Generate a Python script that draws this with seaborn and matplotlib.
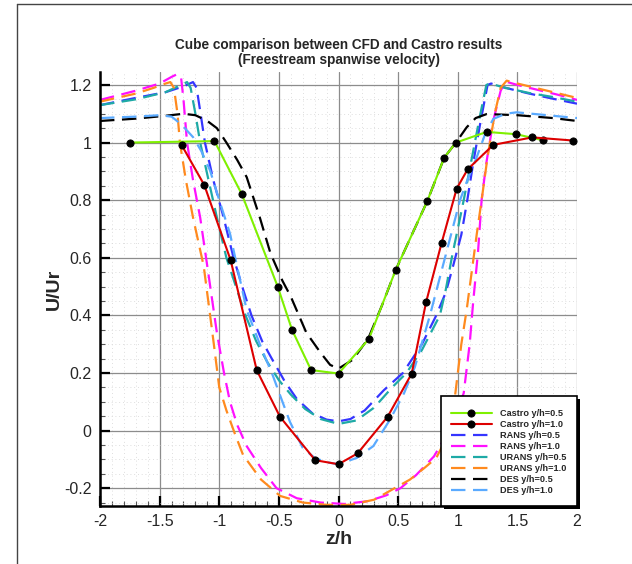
import numpy as np
import pandas as pd
import matplotlib
matplotlib.use("Agg")
import matplotlib.pyplot as plt
from matplotlib.lines import Line2D
from matplotlib.patches import Rectangle
from matplotlib.ticker import MultipleLocator, FuncFormatter
import seaborn as sns

# ---- Castro experimental data ----
castro_z_05 = [-1.75, -1.04, -0.81, -0.51, -0.39, -0.23, 0.0, 0.255, 0.48, 0.745, 0.887, 0.985, 1.243, 1.49, 1.715]
castro_u_05 = [1.0, 1.005, 0.82, 0.50, 0.35, 0.21, 0.198, 0.318, 0.558, 0.797, 0.948, 1.0, 1.037, 1.029, 1.008]

castro_z_10 = [-1.315, -1.125, -0.904, -0.686, -0.491, -0.195, 0.0, 0.161, 0.412, 0.614, 0.734, 0.865, 0.991, 1.083, 1.298, 1.625, 1.969]
castro_u_10 = [0.991, 0.852, 0.591, 0.21, 0.048, -0.103, -0.117, -0.079, 0.048, 0.198, 0.445, 0.652, 0.84, 0.907, 0.992, 1.018, 1.007]

# ---- RANS ----
rans_z_05 = [-2.0, -1.7, -1.45, -1.3, -1.22, -1.19, -1.16, -1.12, -1.05, -0.97, -0.88, -0.8, -0.73, -0.64, -0.56,
             -0.45, -0.35, -0.22, -0.1, 0.0, 0.1, 0.22, 0.38, 0.54, 0.7, 0.82, 0.9, 0.96, 1.03, 1.08, 1.13, 1.19,
             1.25, 1.28, 1.4, 1.6, 1.8, 2.0]
rans_u_05 = [1.13, 1.155, 1.175, 1.195, 1.21, 1.19, 1.11, 1.0, 0.87, 0.75, 0.6, 0.49, 0.4, 0.31, 0.25,
             0.17, 0.11, 0.06, 0.038, 0.032, 0.04, 0.07, 0.14, 0.2, 0.3, 0.4, 0.48, 0.57, 0.68, 0.8, 0.93, 1.07,
             1.2, 1.205, 1.19, 1.17, 1.152, 1.135]

rans_z_10 = [-2.0, -1.7, -1.5, -1.4, -1.35, -1.32, -1.3, -1.27, -1.22, -1.16, -1.1, -1.02, -0.96, -0.91, -0.85,
             -0.77, -0.65, -0.52, -0.35, -0.15, 0.05, 0.25, 0.4, 0.52, 0.65, 0.8, 0.9, 0.98, 1.05, 1.1, 1.13,
             1.17, 1.2, 1.24, 1.3, 1.36, 1.4, 1.5, 1.7, 1.85, 2.0]
rans_u_10 = [1.148, 1.18, 1.205, 1.228, 1.238, 1.225, 1.15, 1.0, 0.87, 0.74, 0.57, 0.34, 0.2, 0.1, 0.02,
             -0.054, -0.13, -0.2, -0.235, -0.25, -0.255, -0.245, -0.225, -0.2, -0.155, -0.09, -0.02, 0.05, 0.13, 0.3, 0.45,
             0.62, 0.8, 0.93, 1.08, 1.18, 1.212, 1.2, 1.18, 1.165, 1.148]

# ---- URANS ----
urans_z_05 = [-2.0, -1.7, -1.45, -1.32, -1.27, -1.24, -1.2, -1.16, -1.09, -1.02, -0.94, -0.86, -0.78, -0.69, -0.6,
              -0.5, -0.4, -0.28, -0.15, 0.0, 0.15, 0.3, 0.45, 0.57, 0.7, 0.85, 0.9, 0.95, 1.0, 1.05, 1.12, 1.19,
              1.24, 1.27, 1.4, 1.6, 1.8, 2.0]
urans_u_05 = [1.13, 1.15, 1.175, 1.2, 1.21, 1.19, 1.1, 1.0, 0.87, 0.74, 0.6, 0.5, 0.4, 0.31, 0.24,
              0.175, 0.125, 0.075, 0.04, 0.023, 0.035, 0.08, 0.15, 0.2, 0.28, 0.4, 0.49, 0.6, 0.7, 0.8, 0.95, 1.1,
              1.2, 1.205, 1.19, 1.172, 1.158, 1.142]

urans_z_10 = [-2.0, -1.7, -1.55, -1.45, -1.41, -1.38, -1.35, -1.33, -1.28, -1.22, -1.13, -1.05, -1.0, -0.94, -0.87,
              -0.8, -0.65, -0.49, -0.3, -0.1, 0.1, 0.3, 0.45, 0.6, 0.72, 0.82, 0.9, 0.95, 0.98, 1.03, 1.075,
              1.12, 1.16, 1.2, 1.25, 1.31, 1.36, 1.41, 1.5, 1.7, 1.85, 2.0]
urans_u_10 = [1.142, 1.17, 1.19, 1.205, 1.21, 1.19, 1.1, 1.0, 0.87, 0.74, 0.57, 0.315, 0.15, 0.07, -0.01,
              -0.085, -0.17, -0.227, -0.25, -0.258, -0.258, -0.24, -0.205, -0.17, -0.13, -0.095, -0.03, 0.04, 0.13, 0.3, 0.42,
              0.56, 0.684, 0.8, 0.95, 1.1, 1.19, 1.215, 1.205, 1.185, 1.17, 1.155]

# ---- DES ----
des_z_05 = [-2.0, -1.7, -1.45, -1.3, -1.2, -1.1, -1.02, -0.94, -0.85, -0.77, -0.66, -0.57, -0.47, -0.4, -0.27,
            -0.15, -0.07, 0.0, 0.12, 0.25, 0.37, 0.48, 0.745, 0.887, 0.985, 1.075, 1.15, 1.243, 1.5, 1.8, 2.0]
des_u_05 = [1.075, 1.083, 1.093, 1.1, 1.095, 1.075, 1.05, 1.0, 0.94, 0.88, 0.74, 0.615, 0.52, 0.465, 0.34,
            0.27, 0.228, 0.215, 0.246, 0.32, 0.44, 0.558, 0.797, 0.948, 1.0, 1.053, 1.085, 1.099, 1.095, 1.085, 1.075]

des_z_10 = [-2.0, -1.7, -1.5, -1.4, -1.357, -1.3, -1.218, -1.15, -1.077, -1.0, -0.91, -0.84, -0.77, -0.66, -0.55,
            -0.47, -0.407, -0.3, -0.2, -0.1, 0.0, 0.153, 0.292, 0.432, 0.55, 0.64, 0.767, 0.893, 1.019, 1.09,
            1.159, 1.23, 1.298, 1.4, 1.494, 1.7, 2.0]
des_u_10 = [1.085, 1.09, 1.095, 1.09, 1.076, 1.055, 1.018, 0.97, 0.903, 0.8, 0.684, 0.55, 0.419, 0.3, 0.19,
            0.1, 0.03, -0.06, -0.095, -0.11, -0.117, -0.095, -0.054, 0.038, 0.13, 0.22, 0.4, 0.6, 0.8, 0.88,
            0.949, 1.03, 1.082, 1.1, 1.105, 1.097, 1.085]

x_ticks = [-2, -1.5, -1, -0.5, 0, 0.5, 1, 1.5, 2]
y_ticks = [-0.2, 0, 0.2, 0.4, 0.6, 0.8, 1, 1.2]

sns.set_theme(style="white")
plt.rcParams["font.family"] = ["Liberation Sans", "DejaVu Sans"]

W, H = 632, 564
fig = plt.figure(figsize=(W / 100, H / 100), dpi=100)
AX_L, AX_R, AX_T, AX_B = 100, 577, 72, 506
ax = fig.add_axes([AX_L / W, 1 - AX_B / H, (AX_R - AX_L) / W, (AX_B - AX_T) / H])

dash = (0, (6.5, 3.4))

def draw(z, u, label, color, castro=False):
    df = pd.DataFrame({"z/h": z, "U/Ur": u})
    if castro:
        sns.lineplot(data=df, x="z/h", y="U/Ur", ax=ax, color=color, lw=1.5, label=label,
                     estimator=None, marker="o", markersize=5.2, markerfacecolor="black",
                     markeredgecolor="black", markeredgewidth=0.6, zorder=3)
    else:
        sns.lineplot(data=df, x="z/h", y="U/Ur", ax=ax, color=color, lw=1.6, label=label,
                     estimator=None, linestyle=dash, zorder=2)

draw(castro_z_05, castro_u_05, "Castro y/h=0.5", "#7ff000", castro=True)
draw(castro_z_10, castro_u_10, "Castro y/h=1.0", "#dd0000", castro=True)
draw(rans_z_05, rans_u_05, "RANS y/h=0.5", "#3535ff")
draw(rans_z_10, rans_u_10, "RANS y/h=1.0", "#ff10ff")
draw(urans_z_05, urans_u_05, "URANS y/h=0.5", "#1eaaa6")
draw(urans_z_10, urans_u_10, "URANS y/h=1.0", "#ff8a1e")
draw(des_z_05, des_u_05, "DES y/h=0.5", "#000000")
draw(des_z_10, des_u_10, "DES y/h=1.0", "#5aaaff")

ax.set_xlim(-2, 2)
ax.set_ylim(-0.262, 1.245)
ax.set_xticks(x_ticks)
ax.set_yticks(y_ticks)
ax.xaxis.set_minor_locator(MultipleLocator(0.1))
ax.yaxis.set_minor_locator(MultipleLocator(0.05))
fmt = FuncFormatter(lambda v, p: f"{round(v, 3):g}")
ax.xaxis.set_major_formatter(fmt)
ax.yaxis.set_major_formatter(fmt)

ax.grid(which="major", color="#8c8c8c", lw=0.9, ls="-")
ax.grid(which="minor", color="#d4d4d4", lw=0.6, ls=(0, (1, 3.5)))
ax.set_axisbelow(True)

for side in ("top", "right"):
    ax.spines[side].set_visible(False)
for side in ("left", "bottom"):
    ax.spines[side].set_color("black")
    ax.spines[side].set_linewidth(1.8)

ax.tick_params(which="major", direction="in", length=7, width=1.6, color="black",
               labelsize=11.5, pad=6, left=True, bottom=True)
ax.tick_params(which="minor", direction="in", length=3.5, width=0.8, color="#555555",
               left=True, bottom=True)

ax.set_xlabel("z/h", fontsize=14, fontweight="bold", va="top")
ax.set_ylabel("U/Ur", fontsize=14, fontweight="bold")
ax.xaxis.set_label_coords(0.5, -0.057)
ax.yaxis.set_label_coords(-0.078, 0.5)

ax.set_title("Cube comparison between CFD and Castro results\n(Freestream spanwise velocity)",
             fontsize=9.8, fontweight="bold", pad=6, linespacing=1.05)

# legend box with a solid drop shadow in the lower-right corner of the plot
aw, ah = AX_R - AX_L, AX_B - AX_T
bx0, bx1, by1 = (441 - AX_L) / aw, 1.0, (AX_B - 396) / ah
sx, sy = 2.5 / aw, 2.5 / ah
ax.add_patch(Rectangle((bx0 + sx, -sy), bx1 - bx0, by1, transform=ax.transAxes,
                       facecolor="black", edgecolor="none", zorder=8, clip_on=False))
ax.add_patch(Rectangle((bx0, 0), bx1 - bx0, by1, transform=ax.transAxes,
                       facecolor="white", edgecolor="black", lw=1.2, zorder=9, clip_on=False))

leg = ax.legend(loc="center", bbox_to_anchor=((508.5 - AX_L) / aw, (AX_B - 452) / ah),
                prop={"weight": "bold", "size": 6.6}, frameon=False,
                handlelength=4.5, handletextpad=0.85, labelspacing=0.22, borderpad=0.0)
leg.set_zorder(10)

# page frame lines
fig.add_artist(Line2D([17 / W, 17 / W], [0, 1 - 4 / H], color="#444444", lw=1.0))
fig.add_artist(Line2D([17 / W, 1], [1 - 4 / H, 1 - 4 / H], color="#444444", lw=1.0))

fig.savefig("out.png", dpi=100)
